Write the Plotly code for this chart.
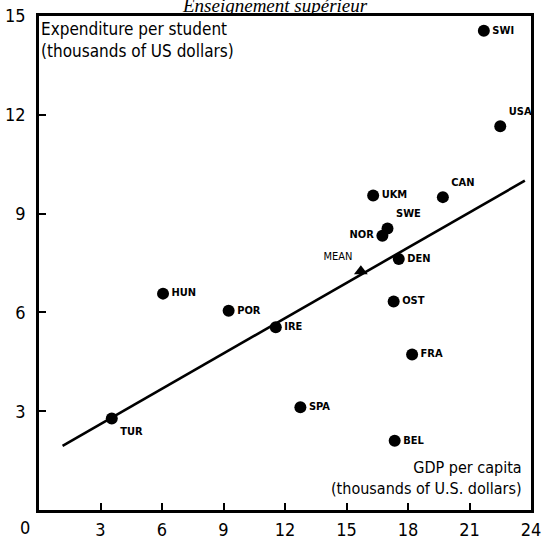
"""
    higher education spending vs GDP per capita
"""

import plotly.graph_objects as go

# country points
countries = ["SWI", "USA", "CAN", "UKM", "SWE", "NOR", "DEN", "OST",
             "FRA", "IRE", "POR", "HUN", "TUR", "SPA", "BEL"]
gdp_per_capita = [21.7, 22.5, 19.7, 16.3, 17.0, 16.75, 17.55, 17.3,
                  18.2, 11.55, 9.25, 6.05, 3.55, 12.75, 17.35]
spend_per_student = [14.55, 11.65, 9.5, 9.55, 8.55, 8.33, 7.62, 6.33,
                     4.72, 5.55, 6.05, 6.57, 2.78, 3.12, 2.1]

mean_label = "MEAN"
mean_gdp = [15.7]
mean_spend = [7.25]

fit_gdp = [1.15, 23.7]
fit_spend = [1.95, 10.0]

x_ticks = [3, 6, 9, 12, 15, 18, 21, 24]
y_ticks = [3, 6, 9, 12, 15]

label_pos = ["middle right", "top right", "top right", "middle right",
             "top right", "middle left", "middle right", "middle right",
             "middle right", "middle right", "middle right", "middle right",
             "bottom right", "middle right", "middle right"]

SANS = "DejaVu Sans Condensed, DejaVu Sans"


def main():
    fig = go.Figure()

    fig.add_trace(go.Scatter(
        x=fit_gdp, y=fit_spend, mode="lines",
        line=dict(color="black", width=2.6),
        hoverinfo="skip", showlegend=False))

    fig.add_trace(go.Scatter(
        x=gdp_per_capita, y=spend_per_student,
        mode="markers+text", text=countries, textposition=label_pos,
        textfont=dict(family=SANS, size=11, color="black", weight="bold"),
        marker=dict(color="black", size=12),
        showlegend=False))

    fig.add_trace(go.Scatter(
        x=mean_gdp, y=mean_spend,
        mode="markers+text", text=[mean_label], textposition="top left",
        textfont=dict(family=SANS, size=11, color="black"),
        marker=dict(color="black", size=12, symbol="triangle-up"),
        showlegend=False))

    axis_common = dict(
        showline=True, linecolor="black", linewidth=2.5, mirror=True,
        ticks="inside", ticklen=7, tickwidth=2, tickcolor="black",
        showgrid=False, zeroline=False, automargin=False,
        tickfont=dict(family=SANS, size=18, color="black"))

    fig.update_xaxes(range=[0, 24], tickvals=x_ticks, ticklabelstandoff=2,
                     **axis_common)
    fig.update_yaxes(range=[0, 15], tickvals=y_ticks, ticklabelstandoff=7,
                     **axis_common)

    # origin label, shared by both axes
    fig.add_annotation(x=0, y=0, text="0", showarrow=False,
                       xanchor="right", yanchor="top", xshift=-7, yshift=-5,
                       font=dict(family=SANS, size=18, color="black"))

    fig.add_annotation(xref="paper", yref="paper", x=0.0, y=0.998,
                       xanchor="left", yanchor="top", align="left",
                       showarrow=False,
                       text="Expenditure per student<br>(thousands of US dollars)",
                       font=dict(family=SANS, size=17, color="black"))

    fig.add_annotation(xref="paper", yref="paper", x=0.985, y=0.02,
                       xanchor="right", yanchor="bottom", align="right",
                       showarrow=False,
                       text="GDP per capita<br>(thousands of U.S. dollars)",
                       font=dict(family=SANS, size=16, color="black"))

    # title, pushed against the top edge like the scan
    fig.add_annotation(xref="paper", yref="paper", x=0.48, y=1.0,
                       xanchor="center", yanchor="bottom", yshift=-2,
                       showarrow=False,
                       text="<i>Enseignement supérieur</i>",
                       font=dict(family="Liberation Serif", size=19, color="black"))

    fig.update_layout(
        width=549, height=542,
        margin=dict(l=39, r=18, t=16, b=32),
        paper_bgcolor="white", plot_bgcolor="white")

    # drop the default page margin so the figure sits at the window corner
    fig.write_html("out.html",
                   config={"displayModeBar": False},
                   post_script="document.body.style.margin = '0px';")


if __name__ == '__main__':
    main()
